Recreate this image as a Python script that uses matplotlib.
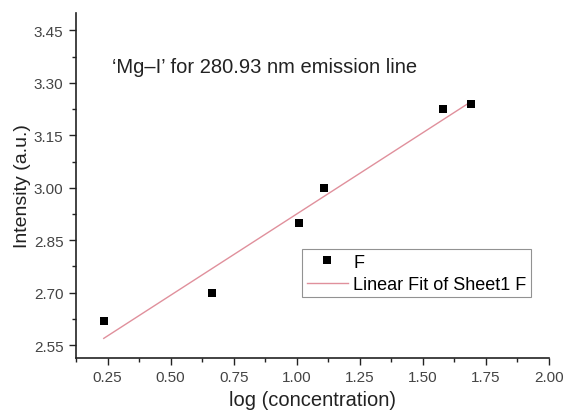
import numpy as np
import matplotlib
matplotlib.use("Agg")
import matplotlib.pyplot as plt
from matplotlib.ticker import MultipleLocator, FormatStrFormatter

x_vals = [0.235, 0.665, 1.01, 1.11, 1.58, 1.69]
y_vals = [2.62, 2.70, 2.90, 3.00, 3.225, 3.24]

plt.rcParams['font.family'] = ['Liberation Sans', 'DejaVu Sans']

fig = plt.figure(figsize=(5.67, 4.14), dpi=100)
ax = fig.add_axes([76/567, 55/414, (549-76)/567, (359-14)/414])

slope, intercept = np.polyfit(x_vals, y_vals, 1)
fx = np.array([min(x_vals), max(x_vals)])
ax.plot(fx, slope*fx + intercept, color='#e0909c', lw=1.0, label='Linear Fit of Sheet1 F', zorder=2)
ax.plot(x_vals, y_vals, 's', color='black', ms=5.5, mew=0, label='F', zorder=3)

ax.set_xlim(0.125, 2.0)
ax.set_ylim(2.513, 3.50)
ax.xaxis.set_major_locator(MultipleLocator(0.25))
ax.xaxis.set_minor_locator(MultipleLocator(0.125))
ax.yaxis.set_major_locator(MultipleLocator(0.15))
ax.yaxis.set_minor_locator(MultipleLocator(0.075))
ax.xaxis.set_major_formatter(FormatStrFormatter('%.2f'))
ax.yaxis.set_major_formatter(FormatStrFormatter('%.2f'))
ax.set_xticks([0.25, 0.5, 0.75, 1.0, 1.25, 1.5, 1.75, 2.0])

for s in ['top', 'right']:
    ax.spines[s].set_visible(False)
for s in ['left', 'bottom']:
    ax.spines[s].set_linewidth(1.2)
    ax.spines[s].set_color('#222222')

ax.tick_params(which='major', direction='out', length=5, width=1, labelsize=11, colors='#222222', labelcolor='#444444', pad=4)
ax.tick_params(which='minor', direction='out', length=3, width=1, colors='#222222')

ax.set_xlabel('log (concentration)', fontsize=14.5, color='#222222', labelpad=4)
ax.set_ylabel('Intensity (a.u.)', fontsize=14, color='#222222', labelpad=2)

ax.text(0.268, 3.348, "\u2018Mg\u2013I\u2019 for 280.93 nm emission line", fontsize=14.5,
        color='#222222', va='center')

h, l = ax.get_legend_handles_labels()
leg = ax.legend([h[1], h[0]], [l[1], l[0]], loc='upper left',
                bbox_to_anchor=((302-76)/473, (359-250)/345), fontsize=13,
                frameon=True, fancybox=False, edgecolor='#777777',
                borderpad=0.25, handlelength=2.3, labelspacing=0.3, handletextpad=0.3,
                borderaxespad=0)
leg.get_frame().set_linewidth(0.8)

fig.savefig('out.png', dpi=100)
